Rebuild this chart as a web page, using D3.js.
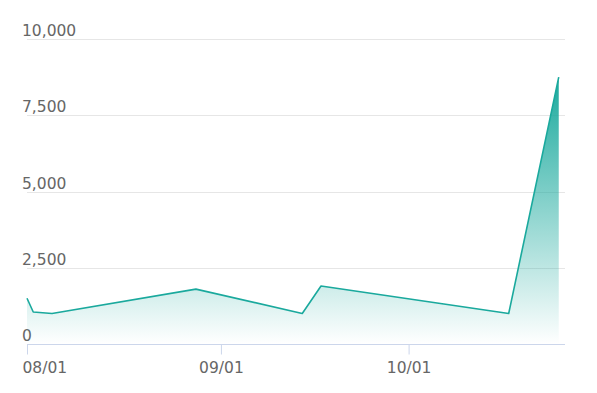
<!DOCTYPE html>
<html><head><meta charset="utf-8">
<script src="https://cdn.jsdelivr.net/npm/d3@7"></script>
<style>body{margin:0;background:#fff}svg{display:block}text{font-family:"DejaVu Sans",sans-serif}</style>
</head><body><svg id="c" width="597" height="393"></svg>
<script>
const dates = ["2023-08-01","2023-08-02","2023-08-05","2023-08-28","2023-09-14","2023-09-17","2023-10-17","2023-10-25"];
const values = [1500, 1050, 1000, 1800, 1000, 1900, 1000, 8750];
const yTicks = [0, 2500, 5000, 7500, 10000];
const xTicks = ["2023-08-01","2023-09-01","2023-10-01"];

const parse = d3.utcParse("%Y-%m-%d");
const data = dates.map((d,i)=>({date:parse(d), value:values[i]}));
const svg = d3.select("#c");
const x = d3.scaleUtc().domain([parse("2023-08-01"), parse("2023-10-26")]).range([27, 565]);
const y = d3.scaleLinear().domain([0, 10000]).range([344, 39]);
const teal = "#1aa99d";
const font = '"DejaVu Sans",sans-serif';

const defs = svg.append("defs");
const g = defs.append("linearGradient").attr("id","grad").attr("x1",0).attr("y1",0).attr("x2",0).attr("y2",1);
g.append("stop").attr("offset","0%").attr("stop-color",teal).attr("stop-opacity",1);
g.append("stop").attr("offset","100%").attr("stop-color",teal).attr("stop-opacity",0);

// gridlines
svg.append("g").selectAll("line").data(yTicks.filter(t=>t>0)).join("line")
  .attr("x1",27).attr("x2",565).attr("y1",d=>Math.round(y(d))+0.5).attr("y2",d=>Math.round(y(d))+0.5)
  .attr("stroke","#e6e6e6").attr("stroke-width",1);

// y labels
const fmt = d3.format(",");
svg.append("g").selectAll("text").data(yTicks).join("text")
  .attr("x",22).attr("y",d=>y(d)-3).attr("fill","#666").attr("font-size",15.5).attr("font-family",font).text(d=>fmt(d));

// area & line
const area = d3.area().x(d=>x(d.date)).y0(y(0)).y1(d=>y(d.value));
svg.append("path").datum(data).attr("d",area).attr("fill","url(#grad)");
const line = d3.line().x(d=>x(d.date)).y(d=>y(d.value));
svg.append("path").datum(data).attr("d",line).attr("fill","none").attr("stroke",teal).attr("stroke-width",1.6).attr("stroke-linejoin","round");

// x axis
const xAxis = d3.axisBottom(x).tickValues(xTicks.map(parse)).tickSize(10).tickFormat(d3.utcFormat("%m/%d"));
const ax = svg.append("g").attr("transform","translate(0,344.5)").call(xAxis);
ax.select(".domain").attr("stroke","#ccd6eb").attr("d","M27,0H565");
ax.selectAll(".tick line").attr("stroke","#ccd6eb");
ax.selectAll(".tick text").attr("fill","#666").attr("font-size",15.5).attr("dy",0).attr("y",28)
  .attr("font-family",font)
  .attr("text-anchor",(d,i)=>i===0?"start":"middle").attr("dx",(d,i)=>i===0?-5:0);
</script></body></html>
